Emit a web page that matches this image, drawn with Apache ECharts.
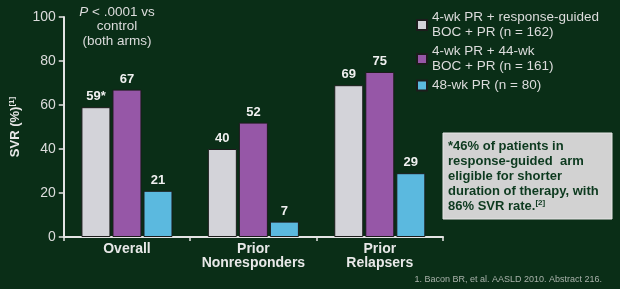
<!DOCTYPE html>
<html>
<head>
<meta charset="utf-8">
<script src="https://cdn.jsdelivr.net/npm/echarts@6/dist/echarts.min.js"></script>
<style>
  html, body { margin: 0; padding: 0; background: #0a2e17; }
  #svrchart { width: 620px; height: 289px; }
</style>
</head>
<body>
<div id="svrchart"></div>
<script>
  // categories and series
  var groups = ['Overall', 'Prior\nNonresponders', 'Prior\nRelapsers'];
  var armNames = [
    '4-wk PR + response-guided\nBOC + PR (n = 162)',
    '4-wk PR + 44-wk\nBOC + PR (n = 161)',
    '48-wk PR (n = 80)'
  ];
  var rgtValues = [59, 40, 69];
  var rgtLabels = ['59*', '40', '69'];
  var fixedValues = [67, 52, 75];
  var controlValues = [21, 7, 29];
  var yTicks = [0, 20, 40, 60, 80, 100];

  var colors = ['#d3d3d9', '#9657a7', '#5bb9df'];
  var txt = '#dcdcdc';

  var chart = echarts.init(document.getElementById('svrchart'));

  function barSeries(name, values, color, labels) {
    return {
      name: name,
      type: 'bar',
      barWidth: 29,
      barGap: '7%',
      data: values,
      itemStyle: { color: color, borderColor: '#1c1c1c', borderWidth: 1 },
      label: {
        show: true,
        position: 'top',
        distance: 4,
        color: '#f0f0f0',
        fontWeight: 'bold',
        fontSize: 13,
        fontFamily: 'Liberation Sans, Arial',
        formatter: function (p) { return labels ? labels[p.dataIndex] : p.value; }
      }
    };
  }

  var option = {
    backgroundColor: '#0a2e17',
    animation: false,
    textStyle: { fontFamily: 'Liberation Sans, Arial' },
    grid: { left: 61, right: 177, top: 17, bottom: 52 },
    legend: {
      orient: 'vertical',
      left: 411,
      top: 5,
      itemWidth: 10,
      itemHeight: 10,
      itemGap: 4,
      icon: 'rect',
      data: armNames,
      textStyle: { color: txt, fontSize: 13.5, lineHeight: 15 },
      selectedMode: false
    },
    xAxis: {
      type: 'category',
      data: groups,
      axisLine: { lineStyle: { color: '#e4e4e4', width: 2 } },
      axisTick: { show: true, length: 4, lineStyle: { color: '#e4e4e4', width: 1.5 } },
      axisLabel: {
        color: '#e8e8e8',
        fontWeight: 'bold',
        fontSize: 14,
        lineHeight: 14,
        margin: 5,
        interval: 0
      }
    },
    yAxis: {
      type: 'value',
      min: yTicks[0],
      max: yTicks[yTicks.length - 1],
      interval: yTicks[1] - yTicks[0],
      name: '{a|SVR (%)}{s|[1]}',
      nameLocation: 'middle',
      nameRotate: 90,
      nameGap: 33,
      nameTextStyle: {
        rich: {
          a: { color: '#e8e8e8', fontWeight: 'bold', fontSize: 13 },
          s: { color: '#e8e8e8', fontWeight: 'bold', fontSize: 8, verticalAlign: 'top', padding: [0, 0, 6, 0] }
        }
      },
      axisLine: { show: true, lineStyle: { color: '#e4e4e4', width: 2 } },
      axisTick: { show: true, length: 5, lineStyle: { color: '#e4e4e4', width: 1.5 } },
      splitLine: { show: false },
      axisLabel: { color: txt, fontSize: 14, margin: 8 }
    },
    graphic: [
      {
        type: 'text',
        x: 117,
        y: 5,
        style: {
          text: '{i|P} < .0001 vs\ncontrol\n(both arms)',
          align: 'center',
          fill: txt,
          fontSize: 13.5,
          lineHeight: 14.5,
          fontFamily: 'Liberation Sans, Arial',
          rich: { i: { fontStyle: 'italic', fontSize: 13.5, fill: txt } }
        }
      },
      {
        type: 'rect',
        shape: { x: 443, y: 133, width: 169, height: 86 },
        style: { fill: '#d2d2d2', stroke: '#e6e6e6', lineWidth: 1 }
      },
      {
        type: 'text',
        x: 448,
        y: 139,
        style: {
          text: '*46% of patients in\nresponse-guided  arm\neligible for shorter\nduration of therapy, with\n86% SVR rate.{s|[2]}',
          fill: '#0d3a1f',
          fontWeight: 'bold',
          fontSize: 13,
          lineHeight: 15,
          fontFamily: 'Liberation Sans, Arial',
          rich: { s: { fontSize: 8, fontWeight: 'bold', fill: '#0d3a1f', verticalAlign: 'top', padding: [0, 0, 6, 0] } }
        }
      },
      {
        type: 'text',
        right: 18,
        top: 275,
        style: {
          text: '1. Bacon BR, et al. AASLD 2010. Abstract 216.',
          fill: '#a9b2ab',
          fontSize: 9,
          fontFamily: 'Liberation Sans, Arial'
        }
      }
    ],
    series: [
      barSeries(armNames[0], rgtValues, colors[0], rgtLabels),
      barSeries(armNames[1], fixedValues, colors[1]),
      barSeries(armNames[2], controlValues, colors[2])
    ]
  };

  chart.setOption(option);
</script>
</body>
</html>
